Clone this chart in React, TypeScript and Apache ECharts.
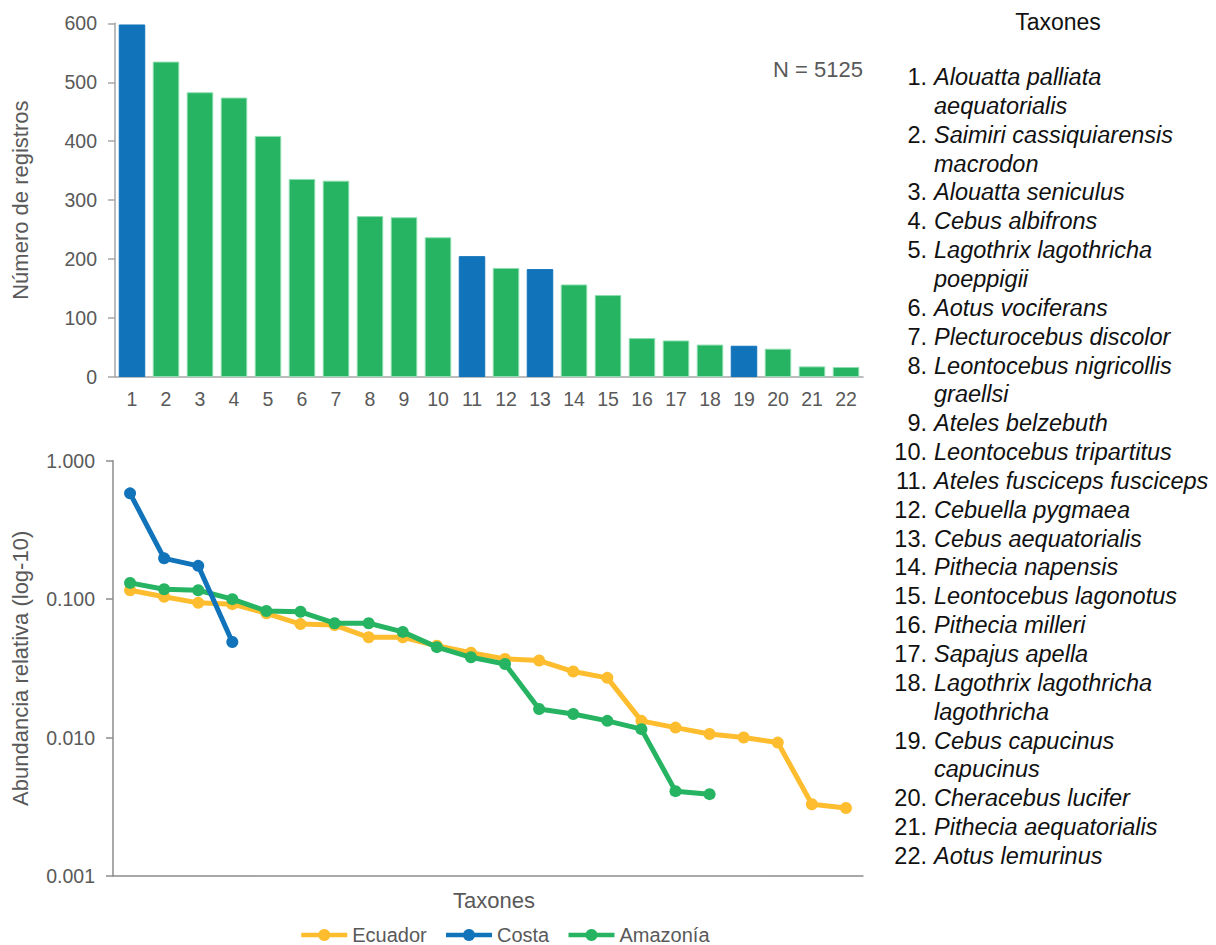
import React, { useEffect, useRef } from "react";
import * as echarts from "echarts";

const CATEGORIES = ["1","2","3","4","5","6","7","8","9","10","11","12","13","14","15","16","17","18","19","20","21","22"];
const RECORDS = [598, 535, 483, 474, 409, 336, 333, 273, 271, 237, 205, 185, 183, 157, 139, 66, 62, 55, 53, 48, 18, 17];
const BAR_REGION = ["Costa","Amazonía","Amazonía","Amazonía","Amazonía","Amazonía","Amazonía","Amazonía","Amazonía","Amazonía","Costa","Amazonía","Costa","Amazonía","Amazonía","Amazonía","Amazonía","Amazonía","Costa","Amazonía","Amazonía","Amazonía"];
const ECUADOR = [0.116, 0.104, 0.094, 0.092, 0.079, 0.066, 0.065, 0.053, 0.053, 0.046, 0.041, 0.037, 0.036, 0.030, 0.027, 0.0132, 0.0118, 0.0106, 0.0100, 0.0092, 0.0033, 0.0031];
const COSTA = [0.581, 0.197, 0.174, 0.049];
const AMAZONIA = [0.131, 0.118, 0.116, 0.100, 0.082, 0.081, 0.067, 0.067, 0.058, 0.045, 0.038, 0.034, 0.0161, 0.0148, 0.0132, 0.0115, 0.0041, 0.0039];
const SERIES_NAMES = ["Ecuador", "Costa", "Amazonía"];
const TAXA = [
  "Alouatta palliata aequatorialis",
  "Saimiri cassiquiarensis macrodon",
  "Alouatta seniculus",
  "Cebus albifrons",
  "Lagothrix lagothricha poeppigii",
  "Aotus vociferans",
  "Plecturocebus discolor",
  "Leontocebus nigricollis graellsi",
  "Ateles belzebuth",
  "Leontocebus tripartitus",
  "Ateles fusciceps fusciceps",
  "Cebuella pygmaea",
  "Cebus aequatorialis",
  "Pithecia napensis",
  "Leontocebus lagonotus",
  "Pithecia milleri",
  "Sapajus apella",
  "Lagothrix lagothricha lagothricha",
  "Cebus capucinus capucinus",
  "Cheracebus lucifer",
  "Pithecia aequatorialis",
  "Aotus lemurinus",
];
const WRAPPED_ITEMS = [1, 2, 5, 8, 18, 19];
const N_TOTAL = 5125;

const COLORS: Record<string, string> = {
  Ecuador: "#FDBD2E",
  Costa: "#1173BA",
  "Amazonía": "#26B462",
};
const FONT = "'Liberation Sans', Arial, sans-serif";
const GRAY = "#595959";

export default function App() {
  const ref = useRef<HTMLDivElement>(null);
  useEffect(() => {
    if (!ref.current) return;
    const chart = echarts.init(ref.current, undefined, { renderer: "svg" });

    const listEls: any[] = [];
    listEls.push({
      type: "text",
      x: 1058,
      y: 22,
      style: { text: "Taxones", font: `23px ${FONT}`, fill: "#111", align: "center", verticalAlign: "middle" },
    });
    let line = 0;
    const y0 = 77;
    const lh = 28.85;
    TAXA.forEach((name, i) => {
      const num = i + 1;
      const y = y0 + line * lh;
      listEls.push({
        type: "text",
        x: 927,
        y,
        style: { text: `${num}.`, font: `23.5px ${FONT}`, fill: "#111", align: "right", verticalAlign: "middle" },
      });
      let parts = [name];
      if (WRAPPED_ITEMS.includes(num)) {
        const k = name.lastIndexOf(" ");
        parts = [name.slice(0, k), name.slice(k + 1)];
      }
      parts.forEach((p, j) => {
        listEls.push({
          type: "text",
          x: 934,
          y: y + j * lh,
          style: { text: p, font: `italic 23.5px ${FONT}`, fill: "#111", align: "left", verticalAlign: "middle" },
        });
      });
      line += parts.length;
    });
    listEls.push({
      type: "text",
      x: 863,
      y: 69,
      style: { text: `N = ${N_TOTAL}`, font: `22px ${FONT}`, fill: GRAY, align: "right", verticalAlign: "middle" },
    });

    const lineSeries = (name: string, data: number[], z: number) => ({
      type: "line",
      name,
      xAxisIndex: 1,
      yAxisIndex: 1,
      data,
      z,
      symbol: "circle",
      symbolSize: 12,
      lineStyle: { width: 5, color: COLORS[name] },
      itemStyle: { color: COLORS[name] },
    });

    chart.setOption({
      animation: false,
      textStyle: { fontFamily: FONT },
      grid: [
        { left: 115, right: 353, top: 23.3, bottom: 568, containLabel: false },
        { left: 113, right: 353, top: 460.7, bottom: 69, containLabel: false },
      ],
      xAxis: [
        {
          type: "category",
          gridIndex: 0,
          data: CATEGORIES,
          axisLine: { lineStyle: { color: "#A6A6A6", width: 1.5 } },
          axisTick: { show: false },
          axisLabel: { color: GRAY, fontSize: 19.5, margin: 12, fontFamily: FONT },
        },
        {
          type: "category",
          gridIndex: 1,
          data: CATEGORIES,
          name: "Taxones",
          nameLocation: "middle",
          nameGap: 13,
          nameTextStyle: { color: GRAY, fontSize: 22, fontFamily: FONT, padding: [0, 0, 0, 12] },
          axisLine: { lineStyle: { color: "#8C8C8C", width: 1.5 } },
          axisTick: { show: false },
          axisLabel: { show: false },
        },
      ],
      yAxis: [
        {
          type: "value",
          gridIndex: 0,
          min: 0,
          max: 600,
          interval: 100,
          name: "Número de registros",
          nameLocation: "middle",
          nameGap: 84,
          nameTextStyle: { color: GRAY, fontSize: 22, fontFamily: FONT },
          axisLine: { show: true, lineStyle: { color: "#A6A6A6", width: 1.5 } },
          axisTick: { show: true, length: 7, lineStyle: { color: "#A6A6A6", width: 1.5 } },
          axisLabel: { color: GRAY, fontSize: 19.5, margin: 18, fontFamily: FONT },
          splitLine: { show: false },
        },
        {
          type: "log",
          gridIndex: 1,
          logBase: 10,
          min: 0.001,
          max: 1,
          name: "Abundancia relativa (log-10)",
          nameLocation: "middle",
          nameGap: 82,
          nameTextStyle: { color: GRAY, fontSize: 22, fontFamily: FONT },
          axisLine: { show: true, lineStyle: { color: "#8C8C8C", width: 1.5 } },
          axisTick: { show: true, length: 7, lineStyle: { color: "#8C8C8C", width: 1.5 } },
          axisLabel: {
            color: GRAY,
            fontSize: 19.5,
            margin: 18,
            fontFamily: FONT,
            formatter: (v: number) => v.toFixed(3),
          },
          splitLine: { show: false },
        },
      ],
      legend: {
        data: SERIES_NAMES,
        left: 294,
        top: 920,
        itemWidth: 46,
        itemHeight: 15,
        itemGap: 17,
        lineStyle: { width: 4.5 },
        textStyle: { color: GRAY, fontSize: 20, fontFamily: FONT },
      },
      series: [
        {
          type: "bar",
          xAxisIndex: 0,
          yAxisIndex: 0,
          barCategoryGap: "22%",
          data: RECORDS.map((v, i) => ({
            value: v,
            itemStyle: {
              color: COLORS[BAR_REGION[i]],
              borderColor: BAR_REGION[i] === "Costa" ? COLORS.Costa : "#8EDDB0",
              borderWidth: 1,
            },
          })),
        },
        lineSeries("Ecuador", ECUADOR, 2),
        lineSeries("Amazonía", AMAZONIA, 3),
        lineSeries("Costa", COSTA, 4),
      ],
      graphic: listEls,
    });
    return () => chart.dispose();
  }, []);
  return (
    <div
      ref={ref}
      style={{ position: "fixed", left: 0, top: 0, width: 1216, height: 945, background: "#fff" }}
    />
  );
}
